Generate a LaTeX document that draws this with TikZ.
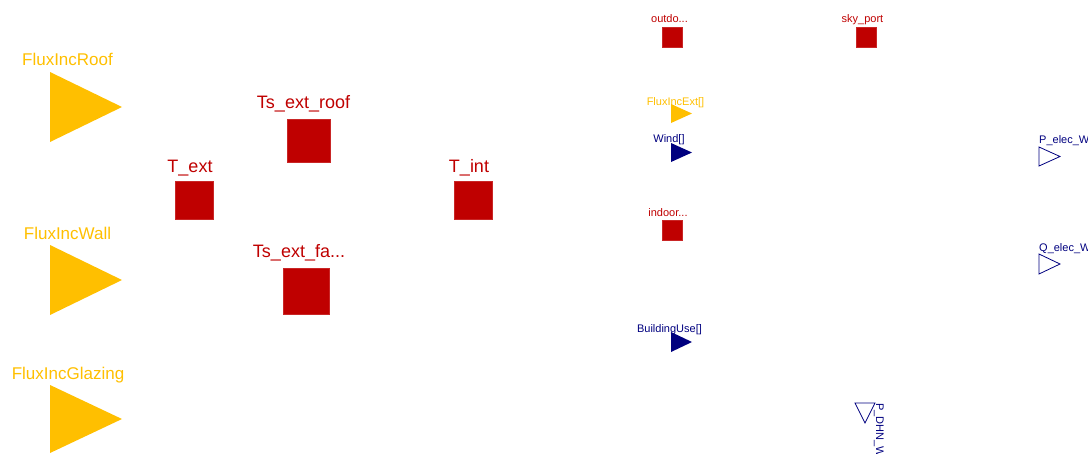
\documentclass[tikz,border=0pt]{standalone}
\usepackage{fontspec}
\setmainfont{Liberation Sans}
\usepackage{tikz}
\usetikzlibrary{positioning}

\definecolor{portyellow}{RGB}{255,191,0}
\definecolor{portred}{RGB}{191,0,0}
\definecolor{portblue}{RGB}{0,0,127}

\begin{document}
\begin{tikzpicture}[x=1pt, y=-1pt,
  bigyellow/.style={font=\fontsize{17}{17}\selectfont, text=portyellow, anchor=base, inner sep=0pt},
  bigred/.style={font=\fontsize{18}{18}\selectfont, text=portred, anchor=base, inner sep=0pt},
  smalllbl/.style={font=\fontsize{11}{11}\selectfont, anchor=base, inner sep=0pt},
  redsq/.style={fill=portred, draw=portred!85, line width=0.4pt, inner sep=0pt}]
  % Frame
  \useasboundingbox (0,0) rectangle (1088,453);

  % Radiation inputs
  \fill[portyellow] (50,72) -- (50,142) -- (122,107) -- cycle;
  \node[bigyellow] (roofLbl) at (67.5,65) {FluxIncRoof};
  \fill[portyellow] (50,245) -- (50,315) -- (122,280) -- cycle;
  \node[bigyellow] (wallLbl) at (67.5,239) {FluxIncWall};
  \fill[portyellow] (50,385) -- (50,453) -- (122,419) -- cycle;
  \node[bigyellow] (glazLbl) at (68,379) {FluxIncGlazing};

  % Heat ports
  \node[redsq, minimum size=38pt] (Text) at (194.5,200) {};
  \node[bigred] (TextLbl) at (190,172) {T\_ext};
  \node[redsq, minimum size=43pt] (Troof) at (308.5,141) {};
  \node[bigred] (TroofLbl) at (303.5,108) {Ts\_ext\_roof};
  \node[redsq, minimum size=46pt] (Tfac) at (306,291.5) {};
  \node[bigred] (TfacLbl) at (299,257) {Ts\_ext\_fa...};
  \node[redsq, minimum size=38pt] (Tint) at (473,200) {};
  \node[bigred] (TintLbl) at (469,172) {T\_int};

  % Small ports
  \node[redsq, minimum size=20pt] (outdoor) at (672,37) {};
  \node[smalllbl, text=portred] (outdoorLbl) at (669.5,22) {outdo...};
  \node[redsq, minimum size=20pt] (sky) at (866,37) {};
  \node[smalllbl, text=portred] (skyLbl) at (862.5,22) {sky\_port};
  \node[redsq, minimum size=20pt] (indoor) at (672,230.5) {};
  \node[smalllbl, text=portred] (indoorLbl) at (668,216) {indoor...};

  \fill[portyellow] (671,104) -- (671,123) -- (692,113.5) -- cycle;
  \node[smalllbl, text=portyellow] (extLbl) at (675.5,105) {FluxIncExt[]};
  \fill[portblue] (671,143) -- (671,162) -- (692,152.5) -- cycle;
  \node[smalllbl, text=portblue] (windLbl) at (669,142) {Wind[]};
  \fill[portblue] (671,332) -- (671,352) -- (692,342) -- cycle;
  \node[smalllbl, text=portblue] (useLbl) at (669.5,332) {BuildingUse[]};

  % Outputs
  \draw[portblue, line width=0.8pt] (1039,147) -- (1039,166) -- (1060,156.5) -- cycle;
  \node[smalllbl, text=portblue, anchor=base west] (pelecLbl) at (1039,143) {P\_elec\_W};
  \draw[portblue, line width=0.8pt] (1039,254) -- (1039,274) -- (1060,264) -- cycle;
  \node[smalllbl, text=portblue, anchor=base west] (qelecLbl) at (1039,251) {Q\_elec\_W};
  \draw[portblue, line width=0.8pt] (855,403) -- (875,403) -- (865,423) -- cycle;
  \node[smalllbl, text=portblue, anchor=base west, rotate=-90] (pdhnLbl) at (876,403) {P\_DHN\_W};
\end{tikzpicture}
\end{document}
